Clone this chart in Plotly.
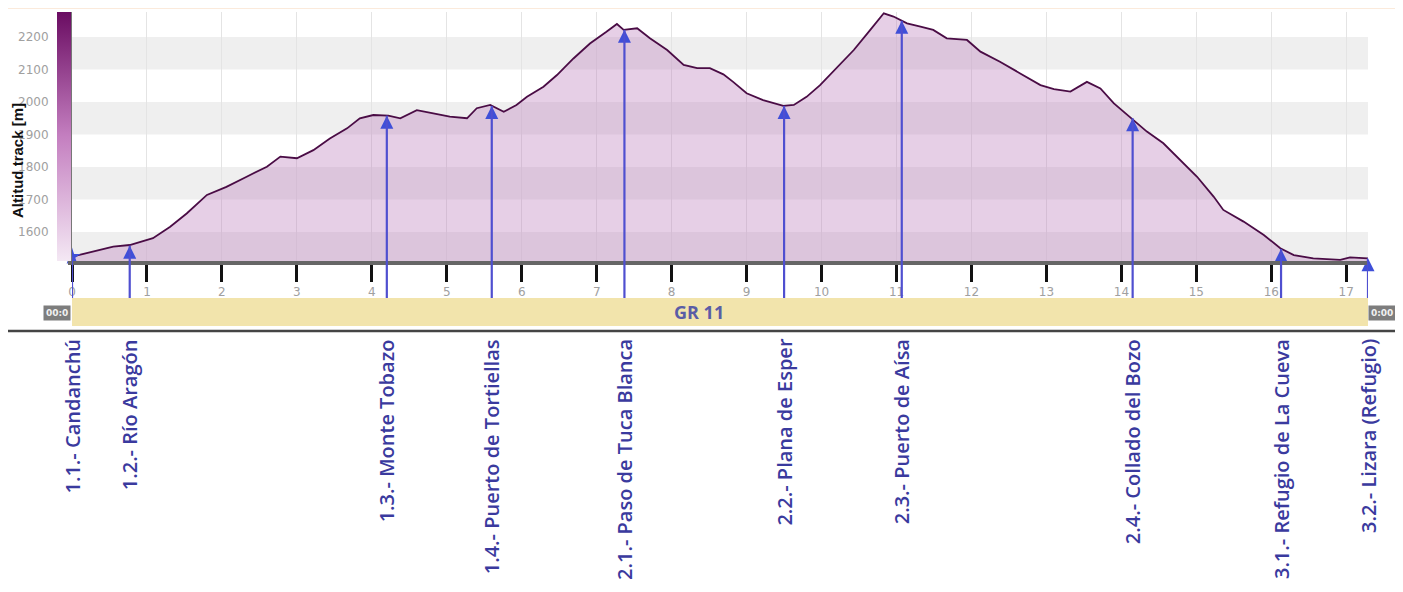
import plotly.graph_objects as go

# ---------------- data ----------------
dist_km = [0.00, 0.28, 0.55, 0.77, 0.91, 1.08, 1.31, 1.53, 1.80, 2.06, 2.33, 2.60, 2.78, 3.00, 3.22,
           3.44, 3.67, 3.84, 4.02, 4.22, 4.38, 4.60, 4.82, 5.04, 5.27, 5.40, 5.58, 5.76, 5.93, 6.07,
           6.29, 6.47, 6.69, 6.91, 7.13, 7.27, 7.36, 7.54, 7.71, 7.94, 8.16, 8.34, 8.51, 8.69, 8.82,
           9.00, 9.22, 9.49, 9.63, 9.80, 9.98, 10.20, 10.43, 10.65, 10.83, 10.96, 11.14, 11.32, 11.49,
           11.67, 11.94, 12.12, 12.38, 12.65, 12.92, 13.10, 13.32, 13.54, 13.72, 13.90, 14.14, 14.34,
           14.56, 14.78, 15.01, 15.23, 15.36, 15.63, 15.90, 16.12, 16.30, 16.56, 16.92, 17.05, 17.29]
elev_m = [1524, 1539, 1555, 1560, 1570, 1581, 1616, 1657, 1714, 1739, 1770, 1801, 1832, 1827, 1852,
          1888, 1919, 1950, 1960, 1958, 1950, 1975, 1965, 1955, 1950, 1981, 1991, 1970, 1991, 2016,
          2047, 2083, 2134, 2180, 2216, 2240, 2222, 2227, 2196, 2160, 2114, 2104, 2104, 2085, 2062,
          2027, 2006, 1988, 1991, 2016, 2052, 2104, 2160, 2222, 2273, 2263, 2242, 2232, 2222,
          2196, 2191, 2155, 2124, 2088, 2052, 2040, 2032, 2062, 2042, 1996, 1950, 1909,
          1873, 1822, 1770, 1709, 1668, 1632, 1591, 1550, 1529, 1519, 1514, 1522, 1519]

wp_names = ["1.1.- Candanchú", "1.2.- Río Aragón", "1.3.- Monte Tobazo", "1.4.- Puerto de Tortiellas",
            "2.1.- Paso de Tuca Blanca", "2.2.- Plana de Esper", "2.3.- Puerto de Aísa",
            "2.4.- Collado del Bozo", "3.1.- Refugio de La Cueva", "3.2.- Lizara (Refugio)"]
wp_km = [0.0, 0.77, 4.2, 5.6, 7.37, 9.5, 11.07, 14.15, 16.13, 17.29]
wp_elev = [1524, 1558, 1958, 1988, 2222, 1988, 2250, 1950, 1548, 1519]

x_ticks = list(range(0, 18))
y_ticks = [1600, 1700, 1800, 1900, 2000, 2100, 2200]
band_lo = [1500, 1700, 1900, 2100]
track_name = "GR 11"

# ---------------- layout constants ----------------
OFF = 8                      # page body margin of the html page
W, H = 1403 - OFF, 592 - OFF
PLOT_L, PLOT_R, PLOT_T, PLOT_B = 72, 1368, 12, 261   # page pixels
ML, MT = PLOT_L - OFF, PLOT_T - OFF
MR = W - (PLOT_R - OFF)
MB = H - (PLOT_B - OFF)
PW, PH = PLOT_R - PLOT_L, PLOT_B - PLOT_T
X_RANGE = [0, 17.29]
Y_RANGE = [1510.8, 2277]


def py(px):  # page pixel row -> paper y
    return (PLOT_B - px) / PH


def pxx(px):  # page pixel column -> paper x
    return (px - PLOT_L) / PW


LINE_BLUE = "#4f4fd0"
LABEL_BLUE = "#3a3a9e"

fig = go.Figure()

fig.add_trace(go.Scatter(
    x=dist_km, y=elev_m, mode="lines",
    line=dict(color="#4a0c45", width=1.8),
    fill="tozeroy", fillcolor="rgba(190,130,190,0.38)",
    hoverinfo="skip", showlegend=False,
))

# dummy trace for the altitude colour bar
fig.add_trace(go.Scatter(
    x=[0], y=[1000], mode="markers",
    marker=dict(color=[Y_RANGE[0]], cmin=Y_RANGE[0], cmax=Y_RANGE[1],
                colorscale=[[0, "#f4e8f4"], [0.5, "#c47fc0"], [1, "#6a0c62"]],
                showscale=True,
                colorbar=dict(x=pxx(57), xanchor="left", y=0.5, yanchor="middle",
                              len=PH, lenmode="pixels", thickness=14, thicknessmode="pixels",
                              xpad=0, ypad=0, outlinewidth=0, showticklabels=False, ticks="")),
    hoverinfo="skip", showlegend=False,
))

shapes = []
for lo in band_lo:
    shapes.append(dict(type="rect", xref="paper", yref="y", x0=0, x1=1, y0=lo, y1=lo + 100,
                       fillcolor="#efefef", line=dict(width=0), layer="below"))

for k, e in zip(wp_km, wp_elev):
    shapes.append(dict(type="line", xref="x", yref="y", x0=k, x1=k, y0=e, y1=Y_RANGE[0],
                       line=dict(color=LINE_BLUE, width=2.2), layer="above"))
    shapes.append(dict(type="line", xref="x", yref="paper", x0=k, x1=k, y0=0, y1=py(298),
                       line=dict(color=LINE_BLUE, width=2.2), layer="above"))

# track band
shapes.append(dict(type="rect", xref="paper", yref="paper", x0=0, x1=1, y0=py(326), y1=py(298),
                   fillcolor="#f1e3a8", line=dict(width=0), opacity=0.95, layer="above"))
# separator line under the band
shapes.append(dict(type="line", xref="paper", yref="paper", x0=pxx(OFF), x1=pxx(1400), y0=py(331), y1=py(331),
                   line=dict(color="#454545", width=2.5), layer="above"))
# peach strip at the top
shapes.append(dict(type="rect", xref="paper", yref="paper", x0=pxx(OFF), x1=pxx(1403), y0=py(9), y1=py(OFF),
                   fillcolor="#fbeadb", line=dict(width=0), layer="above"))

fig.add_trace(go.Scatter(
    x=wp_km, y=wp_elev, mode="markers",
    marker=dict(symbol=["star"] + ["arrow-up"] * (len(wp_km) - 1), size=13, color="#3f4fd8",
                line=dict(width=0)),
    cliponaxis=False, hoverinfo="skip", showlegend=False,
))

annotations = []
for name, k in zip(wp_names, wp_km):
    annotations.append(dict(x=k, xref="x", y=0, yref="paper", yshift=-(337 - PLOT_B), text=name,
                            textangle=-90, xanchor="center", yanchor="top", showarrow=False,
                            font=dict(family="Open Sans", size=20, weight=600, color=LABEL_BLUE)))

annotations.append(dict(x=pxx(699), xref="paper", y=py(312), yref="paper", text="<b>%s</b>" % track_name,
                        showarrow=False, xanchor="center", yanchor="middle",
                        font=dict(family="Open Sans", size=18, color="#5a5ca6")))
annotations.append(dict(x=pxx(17), xref="paper", y=py(161), yref="paper", text="<b>Altitud track [m]</b>",
                        textangle=-90, showarrow=False, xanchor="center", yanchor="middle",
                        font=dict(family="Liberation Sans", size=15, color="#111111")))
annotations.append(dict(x=pxx(43), xref="paper", y=py(313), yref="paper", text="<b>00:0</b>",
                        showarrow=False, xanchor="left", yanchor="middle", bgcolor="#7d7d7d",
                        borderpad=2, font=dict(family="DejaVu Sans", size=9, color="#f0f0f0")))
annotations.append(dict(x=pxx(1368), xref="paper", y=py(313), yref="paper", text="<b>0:00</b>",
                        showarrow=False, xanchor="left", yanchor="middle", bgcolor="#7d7d7d",
                        borderpad=2, font=dict(family="DejaVu Sans", size=9, color="#f0f0f0")))

fig.update_layout(
    width=W, height=H,
    margin=dict(l=ML, r=MR, t=MT, b=MB, pad=0, autoexpand=False),
    paper_bgcolor="white", plot_bgcolor="white",
    shapes=shapes, annotations=annotations,
    showlegend=False,
    xaxis=dict(range=X_RANGE, tickvals=x_ticks, ticktext=[str(t) for t in x_ticks],
               showgrid=True, gridcolor="#e4e4e4", gridwidth=1, zeroline=False,
               showline=True, linecolor="#666666", linewidth=4,
               ticks="outside", ticklen=17, tickwidth=3, tickcolor="#111111",
               tickfont=dict(family="DejaVu Sans", size=12, color="#a0a0a0")),
    yaxis=dict(range=Y_RANGE, tickvals=y_ticks, ticktext=[str(t) for t in y_ticks],
               showgrid=False, zeroline=False,
               showline=True, linecolor="#777777", linewidth=4,
               ticks="outside", ticklen=17, tickcolor="rgba(0,0,0,0)",
               tickfont=dict(family="DejaVu Sans", size=12, color="#a0a0a0")),
)

fig.write_html("out.html")
